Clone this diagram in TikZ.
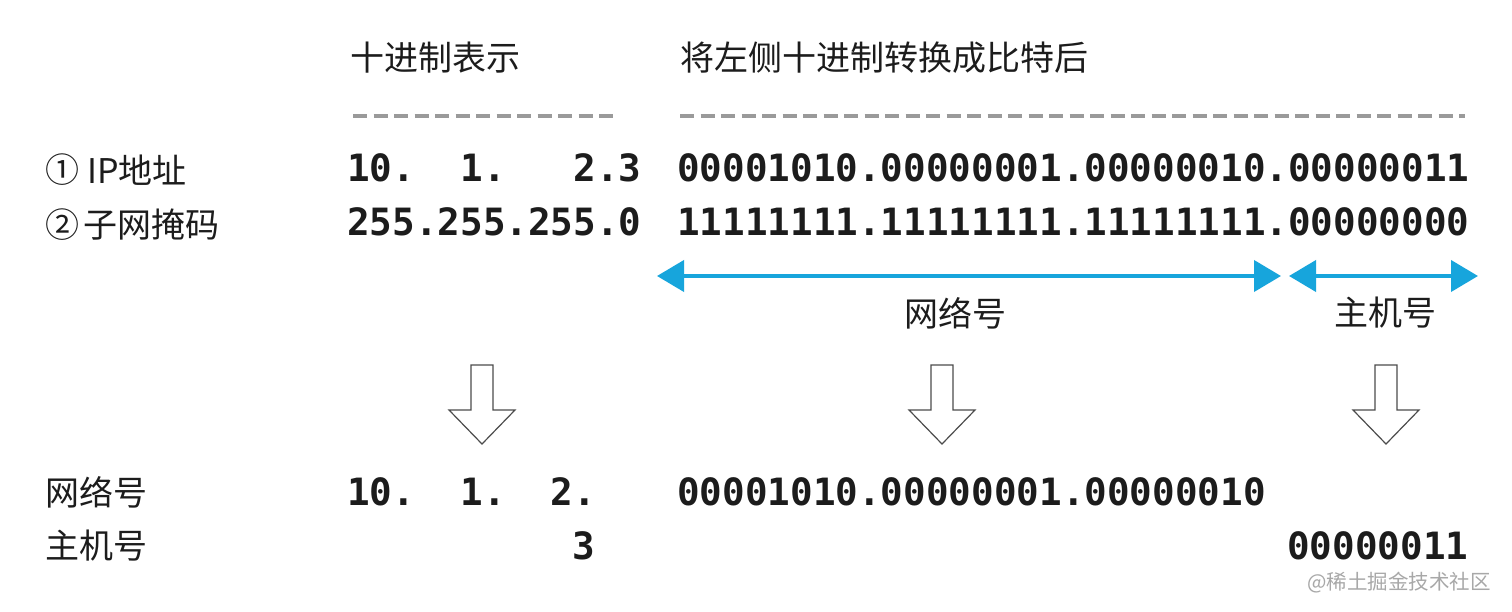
\documentclass[tikz,border=0pt]{standalone}
\usepackage{fontspec}
\usetikzlibrary{arrows.meta}
\newfontfamily\cjk{Noto Sans CJK SC}
\newfontfamily\monob{DejaVu Sans Mono}[BoldFont={* Bold}]
\definecolor{txt}{HTML}{1C1C1C}
\definecolor{ablue}{HTML}{17A5DC}
\definecolor{dashgray}{HTML}{9A9A9A}
\definecolor{wm}{HTML}{A8A8A8}
\tikzset{
  cjklabel/.style={inner sep=0pt, anchor=west, text=txt, font=\cjk\fontsize{34}{34}\selectfont},
  monotext/.style={inner sep=0pt, anchor=base west, text=txt, font=\monob\bfseries\fontsize{37.6}{37.6}\selectfont},
  dimarrow/.style={draw=ablue, line width=4pt, {Triangle[length=27pt,width=31pt]}-{Triangle[length=27pt,width=31pt]}},
  sepline/.style={draw=dashgray, line width=3.5pt, dash pattern=on 14pt off 6.5pt},
  hollow/.style={draw=black!70, line width=1.2pt, fill=white, line join=miter}
}
\begin{document}
\begin{tikzpicture}[x=1pt,y=-1pt]
\useasboundingbox (0,0) rectangle (1512,612);
\fill[white] (0,0) rectangle (1512,612);

% headers
\node[cjklabel] (h1) at (350,58) {十进制表示};
\node[cjklabel] (h2) at (680,58) {将左侧十进制转换成比特后};

% dashed separators
\coordinate (d1a) at (353,116); \coordinate (d1b) at (618,116);
\coordinate (d2a) at (680,116); \coordinate (d2b) at (1465,116);
\draw[sepline] (d1a) -- (d1b);
\draw[sepline] (d2a) -- (d2b);

% row labels
\node[cjklabel] (c1) at (45,170) {①};
\node[cjklabel] (l1) at (87,170) {IP地址};
\node[cjklabel] (c2) at (45,225) {②};
\node[cjklabel] (l2) at (83,225) {子网掩码};

% values
\node[monotext] (ipd) at (347,182) {10.\ \ 1.\ \ \ 2.3};
\node[monotext] (ipb) at (677,182) {00001010.00000001.00000010.00000011};
\node[monotext] (mkd) at (347,236) {255.255.255.0};
\node[monotext] (mkb) at (677,236) {11111111.11111111.11111111.00000000};

% dimension arrows
\coordinate (n1) at (657,276); \coordinate (n2) at (1281,276);
\coordinate (m1) at (1289,276); \coordinate (m2) at (1478,276);
\draw[dimarrow] (n1) -- (n2);
\draw[dimarrow] (m1) -- (m2);
\node[cjklabel, anchor=center] (netl) at (955,313) {网络号};
\node[cjklabel, anchor=center] (hostl) at (1385,313) {主机号};

% hollow arrows
\foreach \cx/\nm in {482/a1, 942/a2, 1386/a3}{
  \draw[hollow] (\cx-11,365) -- (\cx+11,365) -- (\cx+11,410) -- (\cx+33,410)
    -- (\cx,444) -- (\cx-33,410) -- (\cx-11,410) -- cycle;
}

% results
\node[cjklabel] (rn) at (45,492) {网络号};
\node[cjklabel] (rh) at (45,546) {主机号};
\node[monotext] (rnd) at (347,505) {10.\ \ 1.\ \ 2.};
\node[monotext] (rnb) at (677,505) {00001010.00000001.00000010};
\node[monotext] (rhd) at (572,559) {3};
\node[monotext] (rhb) at (1287,559) {00000011};

% watermark
\node[inner sep=0pt, anchor=east, text=wm, font=\cjk\fontsize{20.5}{20.5}\selectfont] (wmk) at (1491,583) {@稀土掘金技术社区};
\end{tikzpicture}
\end{document}
